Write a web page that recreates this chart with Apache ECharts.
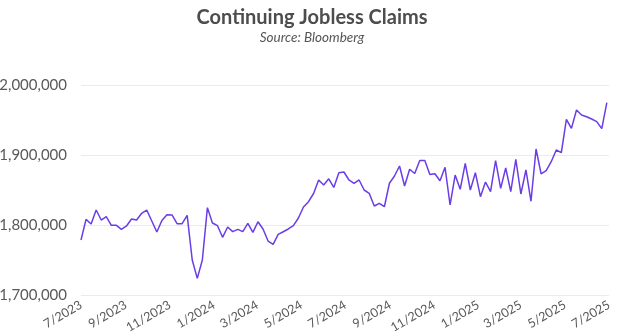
<!DOCTYPE html>
<html>
<head>
<meta charset="utf-8">
<style>
  html, body { margin: 0; padding: 0; background: #ffffff; }
  #chart { width: 624px; height: 336px; }
</style>
<script src="https://cdn.jsdelivr.net/npm/echarts@6/dist/echarts.min.js"></script>
</head>
<body>
<div id="chart"></div>
<script>
// Weekly continuing jobless claims, week ending Saturday, starting 1 July 2023
const firstWeekEnding = [2023, 6, 1]; // year, month index, day
const claims = [
  1778600, 1808100, 1801400, 1821400, 1807100, 1811900, 1799500, 1799500,
  1793800, 1798600, 1808600, 1807100, 1816700, 1821400, 1805700, 1790000,
  1806400, 1814600, 1814300, 1801900, 1801900, 1813800, 1750000, 1723800,
  1750000, 1824800, 1802900, 1799000, 1782400, 1797100, 1790500, 1793800,
  1790500, 1802400, 1789500, 1804700, 1794300, 1777100, 1772400, 1786700,
  1790400, 1794300, 1799000, 1810000, 1825700, 1833300, 1845000, 1864300,
  1857100, 1866000, 1853600, 1874700, 1875700, 1864300, 1859600, 1864300,
  1850000, 1845300, 1827100, 1831000, 1826100, 1859600, 1870000, 1884300,
  1855700, 1879600, 1873600, 1892100, 1892100, 1872100, 1873300, 1863300,
  1882400, 1828600, 1871400, 1851000, 1888100, 1850000, 1874700, 1840400,
  1861400, 1847600, 1891900, 1852400, 1881400, 1847600, 1893900, 1844300,
  1878600, 1833900, 1908600, 1872900, 1877600, 1890400, 1907100, 1903300,
  1951000, 1938100, 1964300, 1957100, 1954700, 1951400, 1947600, 1937600,
  1974700
];

// Month labels shown along the date axis
const tickMonths = [
  '2023-07-01', '2023-09-01', '2023-11-01', '2024-01-01', '2024-03-01',
  '2024-05-01', '2024-07-01', '2024-09-01', '2024-11-01', '2025-01-01',
  '2025-03-01', '2025-05-01', '2025-07-01'
];
const yTicks = [1700000, 1800000, 1900000, 2000000];

function parseDay(s) {
  const p = s.split('-').map(Number);
  return new Date(p[0], p[1] - 1, p[2]).getTime();
}

const weekEnding = claims.map((_, i) =>
  new Date(firstWeekEnding[0], firstWeekEnding[1], firstWeekEnding[2] + i * 7).getTime()
);
const seriesData = claims.map((v, i) => [weekEnding[i], v]);
const tickValues = tickMonths.map(parseDay);

const chart = echarts.init(document.getElementById('chart'), null, { renderer: 'canvas' });
chart.setOption({
  animation: false,
  backgroundColor: '#ffffff',
  title: {
    text: 'Continuing Jobless Claims',
    subtext: 'Source: Bloomberg',
    left: 'center',
    top: 3,
    itemGap: 3,
    textStyle: {
      fontFamily: 'Lato',
      fontSize: 20,
      fontWeight: 'bold',
      color: '#4d4d4d'
    },
    subtextStyle: {
      fontFamily: 'Lato',
      fontSize: 13.5,
      fontStyle: 'italic',
      color: '#555555'
    }
  },
  grid: {
    left: 81,
    right: 15,
    top: 85,
    bottom: 41,
    containLabel: false,
    outerBoundsMode: 'none'
  },
  xAxis: {
    type: 'value',
    min: tickValues[0],
    max: tickValues[tickValues.length - 1],
    axisLine: { show: false },
    axisTick: { show: false },
    splitLine: { show: false },
    axisLabel: {
      customValues: tickValues,
      rotate: 30,
      margin: 9,
      fontFamily: 'Lato',
      fontSize: 12.5,
      color: '#595959',
      showMinLabel: true,
      showMaxLabel: true,
      hideOverlap: false,
      formatter: function (value) {
        const d = new Date(value);
        return (d.getMonth() + 1) + '/' + d.getFullYear();
      }
    }
  },
  yAxis: {
    type: 'value',
    min: yTicks[0],
    max: yTicks[yTicks.length - 1],
    interval: 100000,
    axisLine: { show: false },
    axisTick: { show: false },
    splitLine: { lineStyle: { color: '#ebebeb', width: 1 } },
    axisLabel: {
      margin: 14,
      fontFamily: 'Lato',
      fontSize: 15,
      color: '#595959',
      formatter: function (v) { return v.toLocaleString('en-US'); }
    }
  },
  series: [{
    type: 'line',
    data: seriesData,
    showSymbol: false,
    symbol: 'none',
    lineStyle: { color: '#6a3de6', width: 1.5 },
    itemStyle: { color: '#6a3de6' }
  }]
});
</script>
</body>
</html>
